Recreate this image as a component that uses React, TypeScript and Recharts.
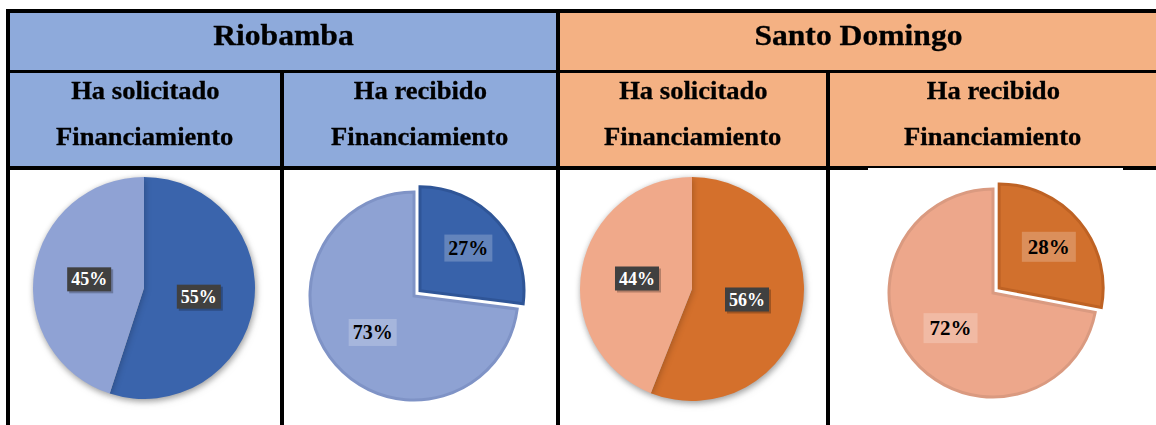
import React from 'react';
import { PieChart, Pie, Cell } from 'recharts';

const cities = ['Riobamba', 'Santo Domingo'];
const questionLines = [
  ['Ha solicitado', 'Financiamiento'],
  ['Ha recibido', 'Financiamiento'],
];
const answers = ['Sí', 'No'];

const riobambaSolicitado = [55, 45];
const riobambaRecibido = [27, 73];
const santoDomingoSolicitado = [56, 44];
const santoDomingoRecibido = [28, 72];

const toData = (vals: number[]) => vals.map((v, i) => ({ name: answers[i], value: v }));

const RAD = Math.PI / 180;
const SERIF = '"Liberation Serif", "Times New Roman", serif';

const BLUE = '#8EAADB';
const ORANGE = '#F4B183';

type BoxOpts = {
  only?: number;
  frac: number[];
  w: number;
  h: number;
  fontSize: number;
  solid: boolean;
};

// label box inside a slice, placed along the slice mid angle
const makeLabel = (o: BoxOpts) => (p: any) => {
  if (o.only !== undefined && p.index !== o.only) return null;
  const cx = Number(p.cx);
  const cy = Number(p.cy);
  const r = Number(p.outerRadius) * o.frac[p.index];
  const x = cx + r * Math.cos(-p.midAngle * RAD);
  const y = cy + r * Math.sin(-p.midAngle * RAD);
  return (
    <g key={`lbl-${p.index}`}>
      {o.solid && (
        <rect x={x - o.w / 2 + 2} y={y - o.h / 2 + 2} width={o.w} height={o.h} fill="rgba(0,0,0,0.25)" />
      )}
      <rect
        x={x - o.w / 2}
        y={y - o.h / 2}
        width={o.w}
        height={o.h}
        fill={o.solid ? '#404040' : 'rgba(255,255,255,0.22)'}
      />
      <text
        x={x}
        y={y + o.fontSize * 0.34}
        textAnchor="middle"
        fontFamily={SERIF}
        fontWeight="bold"
        fontSize={o.fontSize}
        fill={o.solid ? '#ffffff' : '#000000'}
      >
        {`${p.value}%`}
      </text>
    </g>
  );
};

type SolidProps = { vals: number[]; cx: number; cy: number; r: number; colors: string[] };

const solidPie = ({ vals, cx, cy, r, colors }: SolidProps, key: string) => (
  <Pie
    key={key}
    className="pie-shadow"
    data={toData(vals)}
    dataKey="value"
    cx={cx}
    cy={cy}
    outerRadius={r}
    startAngle={90}
    endAngle={-270}
    stroke="none"
    labelLine={false}
    label={makeLabel({ frac: [0.5, 0.5], w: 44, h: 24, fontSize: 18, solid: true })}
    isAnimationActive={false}
  >
    {colors.map((c, i) => (
      <Cell key={i} fill={c} />
    ))}
  </Pie>
);

type ExplodedProps = {
  vals: number[];
  cx: number;
  cy: number;
  r: number;
  colors: string[];
  strokes: string[];
  explode: number;
  box: { w: number; h: number; fontSize: number };
};

// first slice pulled out along its mid angle, drawn as a second pie layer
const explodedPie = (p: ExplodedProps, key: string) => {
  const total = p.vals.reduce((a, b) => a + b, 0);
  const mid = 90 - (360 * p.vals[0]) / total / 2;
  const dx = p.explode * Math.cos(mid * RAD);
  const dy = -p.explode * Math.sin(mid * RAD);
  const frac = [0.62, 0.53];
  return [
    <Pie
      key={key + '-main'}
      data={toData(p.vals)}
      dataKey="value"
      cx={p.cx}
      cy={p.cy}
      outerRadius={p.r}
      startAngle={90}
      endAngle={-270}
      labelLine={false}
      label={makeLabel({ only: 1, frac, ...p.box, solid: false })}
      isAnimationActive={false}
    >
      <Cell fill="transparent" stroke="none" />
      <Cell fill={p.colors[1]} stroke={p.strokes[1]} strokeWidth={3} />
    </Pie>,
    <Pie
      key={key + '-out'}
      data={toData(p.vals)}
      dataKey="value"
      cx={p.cx + dx}
      cy={p.cy + dy}
      outerRadius={p.r}
      startAngle={90}
      endAngle={-270}
      labelLine={false}
      label={makeLabel({ only: 0, frac, ...p.box, solid: false })}
      isAnimationActive={false}
    >
      <Cell fill={p.colors[0]} stroke={p.strokes[0]} strokeWidth={3} />
      <Cell fill="transparent" stroke="none" />
    </Pie>,
  ];
};

const line = (left: number, top: number, width: number, height: number, bg = '#000') => (
  <div style={{ position: 'absolute', left, top, width, height, background: bg }} />
);

const cell = (left: number, top: number, width: number, height: number, bg: string) => (
  <div style={{ position: 'absolute', left, top, width, height, background: bg }} />
);

const headerText = (text: string, left: number, width: number) => (
  <div
    style={{
      position: 'absolute',
      left,
      width,
      top: 16.5,
      textAlign: 'center',
      fontFamily: SERIF,
      fontWeight: 'bold',
      fontSize: 29,
      lineHeight: '36px',
      color: '#000',
    }}
  >
    <span style={{ display: 'inline-block', transform: 'scaleX(1.09)', WebkitTextStroke: '0.3px #000' }}>
      {text}
    </span>
  </div>
);

const subText = (lines: string[], left: number, width: number) => (
  <div
    style={{
      position: 'absolute',
      left,
      width,
      top: 68,
      textAlign: 'center',
      fontFamily: SERIF,
      fontWeight: 'bold',
      fontSize: 24.5,
      lineHeight: '45.5px',
      color: '#000',
    }}
  >
    {lines.map((l, i) => (
      <div key={i}>
        <span style={{ display: 'inline-block', transform: 'scaleX(1.085)', WebkitTextStroke: '0.3px #000' }}>
          {l}
        </span>
      </div>
    ))}
  </div>
);

export default function App() {
  return (
    <div
      style={{
        position: 'absolute',
        left: 0,
        top: 0,
        width: 1156,
        height: 425,
        background: '#fff',
        overflow: 'hidden',
      }}
    >
      <style>{`.pie-shadow { filter: drop-shadow(1px 2px 3px rgba(0,0,0,0.22)); }`}</style>

      {cell(8, 11, 550, 60, BLUE)}
      {cell(558, 11, 598, 60, ORANGE)}
      {cell(8, 71, 550, 97, BLUE)}
      {cell(558, 71, 598, 97, ORANGE)}

      {headerText(cities[0], 10, 546)}
      {headerText(cities[1], 560, 596)}
      {subText(questionLines[0], 10, 270)}
      {subText(questionLines[1], 284, 272)}
      {subText(questionLines[0], 560, 266)}
      {subText(questionLines[1], 830, 326)}

      {line(6, 9, 1150, 4)}
      {line(6, 70, 1150, 3)}
      {line(6, 166, 1150, 4)}
      {line(6, 9, 4, 416)}
      {line(556, 9, 4, 416)}
      {line(280, 70, 4, 355)}
      {line(826, 70, 4, 355)}
      {line(868, 168, 255, 3, '#fff')}

      <PieChart
        width={1156}
        height={425}
        margin={{ top: 0, right: 0, bottom: 0, left: 0 }}
        style={{ position: 'absolute', left: 0, top: 0 }}
      >
        {solidPie({ vals: riobambaSolicitado, cx: 144, cy: 288, r: 111, colors: ['#3A64AC', '#8FA2D4'] }, 'rs')}
        {explodedPie(
          {
            vals: riobambaRecibido,
            cx: 414,
            cy: 296,
            r: 104,
            colors: ['#3862AA', '#8EA2D3'],
            strokes: ['#2F5597', '#7F93C6'],
            explode: 8,
            box: { w: 48, h: 27, fontSize: 20 },
          },
          'rr'
        )}
        {solidPie({ vals: santoDomingoSolicitado, cx: 692, cy: 289, r: 112, colors: ['#D4702C', '#F0A98A'] }, 'ss')}
        {explodedPie(
          {
            vals: santoDomingoRecibido,
            cx: 993,
            cy: 293,
            r: 104,
            colors: ['#D1702D', '#EDA78B'],
            strokes: ['#BE6224', '#DA9A80'],
            explode: 8,
            box: { w: 54, h: 30, fontSize: 21 },
          },
          'sr'
        )}
      </PieChart>
    </div>
  );
}
